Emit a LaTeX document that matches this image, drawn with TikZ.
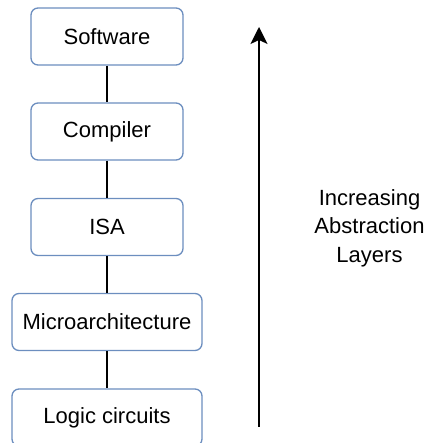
\documentclass[tikz,border=0pt]{standalone}
\usepackage{fontspec}
\setmainfont{Liberation Sans}
\usetikzlibrary{arrows.meta}
\definecolor{boxblue}{HTML}{6C8EBF}
\begin{document}
\begin{tikzpicture}[x=1pt,y=1pt,
  layer/.style={draw=boxblue, line width=1.3pt, rounded corners=7pt, fill=white,
    minimum height=57pt, inner sep=0pt, font=\fontsize{22}{26}\selectfont},
  narrow/.style={layer, minimum width=152pt},
  wide/.style={layer, minimum width=190pt},
  link/.style={line width=1.6pt, black},
  rise/.style={line width=1.6pt, black, -{Stealth[length=17pt,width=17pt,inset=4pt]}}]
  \useasboundingbox (0,0) rectangle (430,443);
  % stack of layers
  \node[narrow] (sw)  at (107,406.5) {Software};
  \node[narrow] (cc)  at (107,311.5) {Compiler};
  \node[narrow] (isa) at (107,216)   {ISA};
  \node[wide]   (ua)  at (107,121)   {Microarchitecture};
  \node[wide]   (lc)  at (107,25.5)  {Logic circuits};
  \draw[link] (sw) -- (cc);
  \draw[link] (cc) -- (isa);
  \draw[link] (isa) -- (ua);
  \draw[link] (ua) -- (lc);
  % abstraction arrow
  \coordinate (base) at (259,16);
  \coordinate (top) at (259,416);
  \draw[rise] (base) -- (top);
  \node[align=center, font=\fontsize{22}{28.5}\selectfont] (lbl) at (369.5,215)
    {Increasing\\Abstraction\\Layers};
\end{tikzpicture}
\end{document}
